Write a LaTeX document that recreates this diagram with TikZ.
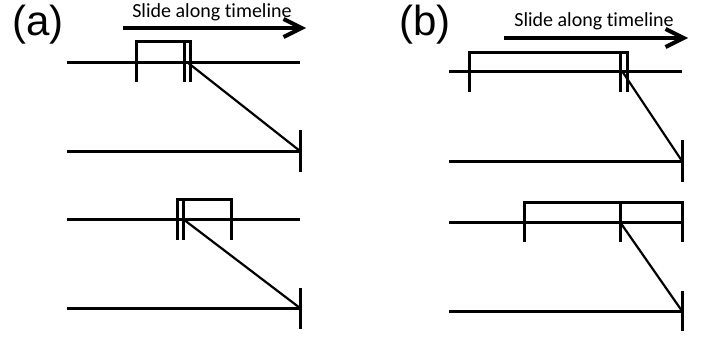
\documentclass[tikz,border=0pt]{standalone}
\usepackage{fontspec}
\newfontfamily\panelfont{Liberation Sans}
\newfontfamily\slidefont[Ligatures=NoCommon]{Carlito}
\usetikzlibrary{arrows.meta}
\tikzstyle{every picture}=[x=0.5pt, y=-0.5pt, line cap=butt]
\tikzstyle{panel}=[inner sep=0pt, font=\panelfont\fontsize{21}{21}\selectfont]
\tikzstyle{caption}=[inner sep=0pt, font=\slidefont\fontsize{10}{10}\selectfont]
\tikzstyle{slide}=[line width=2pt, -{Straight Barb[length=9pt, width=9pt, line width=2pt]}]
\tikzstyle{timeline}=[line width=1.5pt]
\tikzstyle{link}=[line width=1.1pt]

\begin{document}
\begin{tikzpicture}
	\useasboundingbox (0,0) rectangle (711,337);
	% panel labels
	\node[panel] (la) at (38,25) {(a)};
	\node[panel] (lb) at (425,25) {(b)};
	% slide arrows
	\coordinate (sa0) at (123,28);
	\coordinate (sa1) at (306,28);
	\coordinate (sb0) at (504,38);
	\coordinate (sb1) at (688,38);
	\draw[slide] (sa0) -- (sa1);
	\draw[slide] (sb0) -- (sb1);
	\node[caption] (ta) at (212,12) {Slide along timeline};
	\node[caption] (tb) at (594,21) {Slide along timeline};
	% timelines
	\foreach \n/\xa/\xb/\y in {a1/67/300/62, a2/67/300/151, a3/67/300/219, a4/67/300/308,%
		b1/449/682/71, b2/449/682/161, b3/449/682/222, b4/449/682/311} {
		\coordinate (\n s) at (\xa,\y);
		\coordinate (\n e) at (\xb,\y);
		\draw[timeline] (\n s) -- (\n e);
	}
	% end ticks
	\draw[timeline] (a2e) ++(0,-21) -- ++(0,42);
	\draw[timeline] (a4e) ++(0,-20) -- ++(0,41);
	\draw[timeline] (b2e) ++(0,-21) -- ++(0,42);
	\draw[timeline] (b4e) ++(0,-20) -- ++(0,40);
	% windows
	\foreach \xl/\xm/\xr/\yt/\yb in {136/184/190/41/82, 177/183/231/199/240,%
		469/620/627/52/92, 524/620/682/202/242} {
		\draw[timeline] (\xl,\yb) -- (\xl,\yt) -- (\xr,\yt) -- (\xr,\yb);
		\draw[timeline] (\xm,\yt) -- (\xm,\yb);
	}
	% matches
	\coordinate (a1m) at (187,62);
	\coordinate (a3m) at (183,219);
	\coordinate (b1m) at (622,71);
	\coordinate (b3m) at (620,222);
	\draw[link] (a1m) -- (a2e);
	\draw[link] (a3m) -- (a4e);
	\draw[link] (b1m) -- (b2e);
	\draw[link] (b3m) -- (b4e);
\end{tikzpicture}
\end{document}
